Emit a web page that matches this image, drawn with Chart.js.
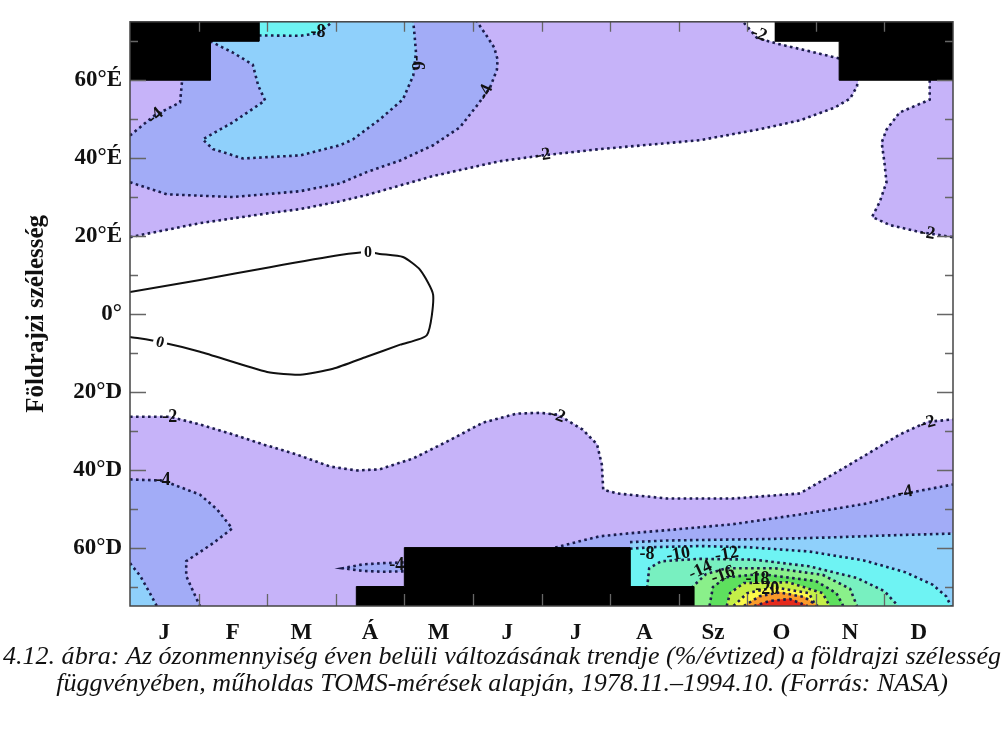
<!DOCTYPE html>
<html>
<head>
<meta charset="utf-8">
<script src="https://cdn.jsdelivr.net/npm/chart.js@4"></script>
<style>
  html, body { margin: 0; padding: 0; background: #fff; }
  #elotolt { position: absolute; left: -9999px; font-family: "Liberation Serif"; }
</style>
</head>
<body>
<span id="elotolt"><b>Földrajzi 60°É</b> <i>ábra</i></span>
<canvas id="grafico" width="1004" height="731"></canvas>
<script>
// hónapok és szélességi körök
const honapok = ['J', 'F', 'M', 'Á', 'M', 'J', 'J', 'A', 'Sz', 'O', 'N', 'D'];
const szelessegTick = [-60, -40, -20, 0, 20, 40, 60];
const szelessegCimke = ['60°D', '40°D', '20°D', '0°', '20°É', '40°É', '60°É'];
const BETU = '"Liberation Serif", "Times New Roman", Times, serif';

// hiányzó adatok (fekete terület) [hónap, szélesség]
const maszkEszak1 = [[0, 75], [1.88, 75], [1.88, 70], [1.17, 70], [1.17, 60], [0, 60]];
const maszkEszak2 = [[9.4, 75], [12, 75], [12, 60], [10.34, 60], [10.34, 70], [9.4, 70]];
const maszkDel = [[3.3, -75], [3.3, -70], [4.0, -70], [4.0, -60], [7.29, -60], [7.29, -70], [8.22, -70], [8.22, -75]];

// izovonalak (%/évtized)
const iz0 = [[0, 5.6], [1.02, 8.7], [2.04, 12.0], [3.06, 15.1], [3.47, 15.9], [3.64, 15.4], [3.98, 14.6], [4.23, 11.3], [4.42, 4.9], [4.33, -5.4], [3.94, -7.9], [3.45, -11.0], [2.96, -14.1], [2.48, -15.6], [2.0, -14.9], [1.02, -9.7], [0.44, -7.2], [0, -5.9]];

const iz2Eszak = [[0, 19.7], [1.02, 23.3], [2.04, 25.9], [2.48, 26.9], [3.06, 28.9], [3.45, 30.5], [4.42, 35.4], [5.39, 39.2], [6.02, 40.7], [6.85, 42.3], [8.31, 44.6], [9.18, 47.4], [9.77, 49.7], [10.28, 53.0], [10.50, 55.3], [10.60, 58.4], [10.61, 60]];
const iz2EszakFent = [[10.34, 65.6], [9.87, 67.6], [9.43, 69.4], [9.14, 70.9], [8.94, 75]];
const iz2Kelet = [[11.66, 60], [11.66, 55.0], [11.22, 51.7], [11.03, 47.3], [10.96, 44.0], [11.0, 38.9], [11.03, 33.8], [10.93, 28.7], [10.82, 24.9], [11.08, 22.8], [11.52, 21.0], [12, 19.7]];
const iz4Eszak = [[0, 33.8], [0.54, 30.7], [1.50, 30.0], [2.48, 31.5], [3.06, 33.5], [3.45, 36.4], [3.94, 39.4], [4.42, 43.3], [4.81, 47.9], [5.06, 53.5], [5.25, 58.1], [5.35, 62.7], [5.36, 65.3], [5.31, 68.4], [5.20, 71.4], [5.06, 75]];
const iz4Sarok = [[0, 45.8], [0.36, 51.0], [0.73, 54.3], [0.76, 60]];
const iz6Eszak = [[1.17, 70], [1.50, 67.1], [1.79, 64.0], [1.87, 58.6], [1.97, 54.8], [1.50, 49.2], [1.06, 44.8], [1.21, 42.3], [1.65, 39.9], [2.48, 40.7], [3.06, 43.3], [3.25, 44.8], [3.64, 49.9], [3.98, 55.1], [4.13, 61.2], [4.17, 67.1], [4.15, 71.4], [4.13, 75]];
const iz8Eszak = [[1.88, 71.5], [2.48, 71.4], [2.75, 72.1], [2.95, 75]];

const iz2Del = [[0, -26.4], [0.58, -26.4], [0.98, -28.2], [1.46, -30.7], [1.94, -33.5], [2.43, -36.1], [2.92, -39.2], [3.31, -40.2], [3.64, -39.9], [4.13, -37.1], [4.62, -32.8], [5.15, -27.9], [5.64, -25.6], [5.98, -25.4], [6.24, -25.9], [6.60, -29.7], [6.81, -33.5], [6.88, -38.7], [6.90, -45.1], [7.10, -46.1], [7.83, -47.4], [8.79, -47.4], [9.77, -46.1], [10.25, -41.2], [10.74, -36.1], [11.22, -31.0], [11.63, -27.7], [12, -27.1]];
const iz4DelNyugat = [[0, -42.5], [0.48, -42.8], [1.02, -46.4], [1.27, -50.2], [1.49, -55.1], [1.21, -58.9], [0.82, -63.5], [0.82, -67.3], [0.92, -71.2], [1.02, -75]];
const iz6DelNyugat = [[0, -64], [0.15, -67.3], [0.29, -71.7], [0.39, -75]];
const iz4Nyelv = [[3.99, -63.8], [3.69, -64.0], [3.40, -64.3], [3.10, -65.3], [3.40, -66.0], [3.69, -66.2], [3.99, -66.1]];
const iz4DelKelet = [[6.2, -60], [6.55, -58.4], [6.85, -57.1], [7.3, -56.3], [7.85, -55.5], [8.79, -54.0], [9.77, -51.5], [10.74, -48.7], [11.22, -46.4], [12, -43.8]];
const iz6DelKelet = [[7.29, -58.6], [7.8, -58.2], [8.5, -58.0], [9.3, -57.8], [10.2, -57.4], [11.0, -56.9], [11.6, -56.6], [12, -56.4]];
const iz8Del = [[7.29, -60.3], [7.6, -59.9], [8.3, -59.6], [9.0, -59.9], [9.9, -61.0], [10.7, -63.3], [11.3, -66.3], [11.7, -69.5], [11.9, -72.5], [11.97, -75]];
const iz10 = [[7.54, -75], [7.54, -70.4], [7.57, -65.3], [7.75, -63.5], [8.3, -62.9], [9.1, -63.1], [9.9, -64.8], [10.6, -67.8], [11.0, -71.2], [11.2, -75]];
const iz12 = [[8.15, -75], [8.2, -70.1], [8.4, -66.8], [8.7, -65.3], [9.4, -65.3], [10.1, -67.0], [10.5, -70.6], [10.6, -75]];
const iz14 = [[8.45, -75], [8.5, -70.1], [8.7, -67.6], [9.2, -66.8], [10.0, -68.6], [10.3, -71.7], [10.4, -75]];
const iz16 = [[8.7, -75], [8.75, -71.7], [8.95, -69.1], [9.6, -68.9], [10.1, -71.7], [10.2, -75]];
const iz18 = [[8.8, -75], [9.0, -71.7], [9.4, -70.2], [9.9, -71.7], [10.0, -75]];
const iz20 = [[8.95, -75], [9.18, -72.5], [9.47, -71.5], [9.83, -72.7], [10.03, -75]];
const iz22 = [[9.1, -75], [9.33, -73.7], [9.62, -73.2], [9.88, -75]];

// feliratok az izovonalakon: [szöveg, hónap, szélesség, szög]
const vonalCimkek = [
  ['-8', 2.74, 72.6, 0], ['-6', 4.2, 64.5, 90], ['-4', 5.17, 57, -65], ['-4', 0.36, 51, -40],
  ['-2', 6.02, 41, -8], ['-2', 9.18, 72, 20], ['-2', 11.63, 21, 10],
  ['0', 3.47, 15.9, 0], ['0', 0.44, -7.2, 15],
  ['-2', 0.58, -26.4, 0], ['-2', 6.24, -25.9, 20], ['-2', 11.63, -27.7, -15],
  ['-4', 0.48, -42.5, 0], ['-4', 11.3, -45.6, -10], ['-4', 3.89, -64.3, 0],
  ['-8', 7.54, -61.5, 0], ['-10', 7.99, -61.5, -10], ['-12', 8.70, -61.5, -10],
  ['-14', 8.31, -65.6, -25], ['-16', 8.64, -66.8, -20], ['-18', 9.15, -67.9, 0], ['-20', 9.29, -70.4, 0]
];

const LEV = '#c6b3f9', KEK = '#a2acf7', VKEK = '#8fd0fb', CIAN = '#6ef3f3', TUR = '#78f0c0';
const ZOLD1 = '#8af08a', ZOLD2 = '#5ee05e', SARGAZ = '#c4ef48', SARGA = '#fbf94a', NARANCS = '#f99a2a', PIROS = '#e62a1c';

// kitöltött tartományok (alulról felfelé)
const retegek = [
  [[...iz2Eszak, [10.61, 65.6], ...iz2EszakFent, [0, 75]], LEV],
  [[...iz2Kelet, [12, 60]], LEV],
  [[...iz4Eszak, [1.0, 75], [1.0, 60.5], ...iz4Sarok.slice().reverse()], KEK],
  [[...iz6Eszak, [1.88, 75], [1.88, 70]], VKEK],
  [[...iz8Eszak, [1.88, 75]], CIAN],
  [[...iz2Del, [12, -75], [0, -75]], LEV],
  [[...iz4DelNyugat, [0, -75]], KEK],
  [[...iz6DelNyugat, [0, -75]], VKEK],
  [iz4Nyelv, KEK],
  [[...iz4DelKelet, [12, -75], [6.2, -75]], KEK],
  [[...iz6DelKelet, [12, -75], [7.29, -75]], VKEK],
  [[...iz8Del, [7.29, -75]], CIAN],
  [iz10, TUR], [iz12, ZOLD1], [iz14, ZOLD2], [iz16, SARGAZ], [iz18, SARGA], [iz20, NARANCS], [iz22, PIROS]
];
const pontok = arr => arr.map(p => ({ x: p[0], y: p[1] }));
const szaggatott = [iz2Eszak, iz2EszakFent, iz2Kelet, iz4Eszak, iz4Sarok, iz6Eszak, iz8Eszak,
  iz2Del, iz4DelNyugat, iz6DelNyugat, [...iz4Nyelv, iz4Nyelv[0]], iz4DelKelet, iz6DelKelet, iz8Del,
  iz10, iz12, iz14, iz16, iz18, iz20, iz22];

const datasets = [];
retegek.forEach(([pts, szin]) => datasets.push({
  data: pontok(pts), showLine: true, fill: 'shape', backgroundColor: szin,
  borderColor: szin, borderWidth: 1, pointRadius: 0
}));
szaggatott.forEach(pts => datasets.push({
  data: pontok(pts), showLine: true, fill: false, borderColor: '#1c1c4c',
  borderWidth: 2.6, borderDash: [2.6, 3.4], pointRadius: 0
}));
datasets.push({ data: pontok(iz0), showLine: true, fill: false, borderColor: '#111', borderWidth: 2, tension: 0.2, pointRadius: 0 });
[maszkEszak1, maszkEszak2, maszkDel].forEach(m => datasets.push({
  data: pontok(m), showLine: true, fill: 'shape', backgroundColor: '#000', borderColor: '#000', borderWidth: 1, pointRadius: 0
}));
// a korábbi réteg kerül alulra
datasets.forEach((d, i) => d.order = datasets.length - i);

const keret = {
  id: 'keret',
  afterDatasetsDraw(chart) {
    const { ctx, chartArea: a, scales: { x, y } } = chart;
    ctx.save();
    ctx.strokeStyle = '#666';
    ctx.lineWidth = 1.3;
    ctx.beginPath();
    for (let v = -70; v <= 70; v += 10) {
      const py = Math.round(y.getPixelForValue(v)) + 0.5;
      const h = v % 20 === 0 ? 16 : 8;
      ctx.moveTo(a.left, py); ctx.lineTo(a.left + h, py);
      ctx.moveTo(a.right, py); ctx.lineTo(a.right - h, py);
    }
    for (let m = 1; m < 12; m++) {
      const px = Math.round(x.getPixelForValue(m)) + 0.5;
      ctx.moveTo(px, a.bottom); ctx.lineTo(px, a.bottom - 12);
      ctx.moveTo(px, a.top); ctx.lineTo(px, a.top + 10);
    }
    ctx.stroke();
    ctx.strokeStyle = '#444';
    ctx.lineWidth = 1.5;
    ctx.strokeRect(a.left, a.top, a.right - a.left, a.bottom - a.top);

    ctx.fillStyle = '#111';
    ctx.textAlign = 'center';
    ctx.textBaseline = 'middle';
    vonalCimkek.forEach(([t, hx, sz, szog]) => {
      const px = x.getPixelForValue(hx), py = y.getPixelForValue(sz);
      ctx.save();
      ctx.translate(px, py);
      ctx.rotate(szog * Math.PI / 180);
      ctx.font = (t === '0' ? 'bold 16px ' : 'bold 18px ') + BETU;
      if (t === '0') {
        ctx.fillStyle = '#fff';
        ctx.fillRect(-7, -8, 14, 16);
        ctx.fillStyle = '#111';
      }
      ctx.fillText(t, 0, 1);
      ctx.restore();
    });
    ctx.restore();
  },
  afterDraw(chart) {
    const { ctx } = chart;
    const sor1 = '4.12. ábra: Az ózonmennyiség éven belüli változásának trendje (%/évtized) a földrajzi szélesség';
    const sor2 = 'függvényében, műholdas TOMS-mérések alapján, 1978.11.–1994.10. (Forrás: NASA)';
    ctx.save();
    ctx.font = 'italic 26px ' + BETU;
    ctx.fillStyle = '#111';
    ctx.textAlign = 'center';
    ctx.textBaseline = 'middle';
    const sx = 998 / ctx.measureText(sor1).width;
    ctx.translate(502, 0);
    ctx.scale(sx, 1);
    ctx.fillText(sor1, 0, 657);
    ctx.fillText(sor2, 0, 684);
    ctx.restore();
  }
};

function rajzol() {
  new Chart(document.getElementById('grafico'), {
    type: 'scatter',
    data: { datasets },
    options: {
      responsive: false,
      animation: false,
      events: [],
      layout: { padding: { top: 21, right: 51, left: 0, bottom: 0 } },
      plugins: { legend: { display: false }, tooltip: { enabled: false } },
      scales: {
        x: {
          type: 'linear', min: 0, max: 12,
          grid: { display: false, drawTicks: false },
          border: { display: false },
          afterBuildTicks: s => { s.ticks = honapok.map((_, i) => ({ value: i + 0.5 })); },
          afterFit: s => { s.height = 125; },
          ticks: {
            autoSkip: false, maxRotation: 0, padding: 13, color: '#111',
            font: { family: BETU, size: 23, weight: 'bold' },
            callback: v => honapok[Math.floor(v)]
          }
        },
        y: {
          type: 'linear', min: -75, max: 75,
          grid: { display: false, drawTicks: false },
          border: { display: false },
          afterBuildTicks: s => { s.ticks = szelessegTick.map(v => ({ value: v })); },
          afterFit: s => { s.width = 130; },
          ticks: {
            autoSkip: false, padding: 8, color: '#111',
            font: { family: BETU, size: 23, weight: 'bold' },
            callback: v => szelessegCimke[szelessegTick.indexOf(v)]
          },
          title: {
            display: true, text: 'Földrajzi szélesség', color: '#111',
            font: { family: BETU, size: 25, weight: 'bold' },
            padding: { top: 22, bottom: 0 }
          }
        }
      }
    },
    plugins: [keret]
  });
}

Promise.all([
  document.fonts.load('bold 20px "Liberation Serif"'),
  document.fonts.load('italic 20px "Liberation Serif"')
]).then(rajzol, rajzol);
</script>
</body>
</html>
